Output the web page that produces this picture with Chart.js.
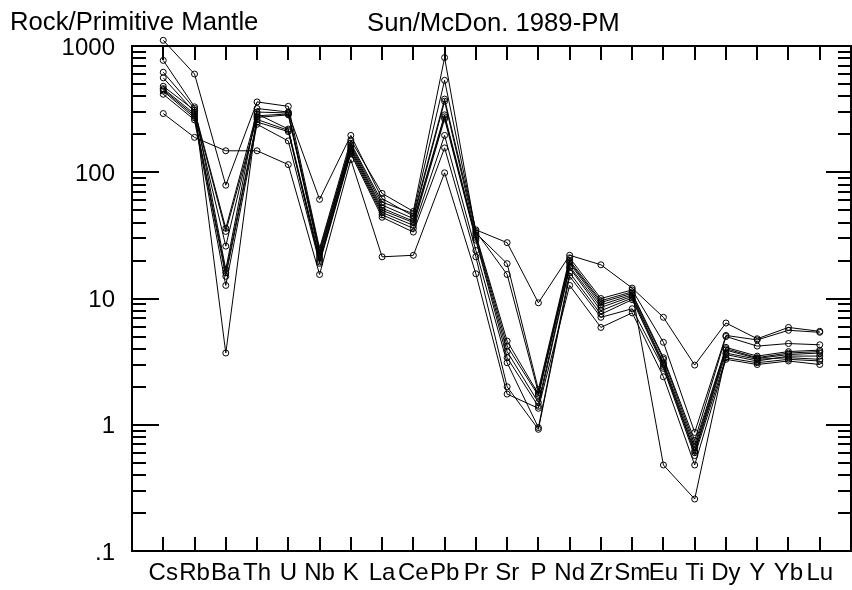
<!DOCTYPE html>
<html>
<head>
<meta charset="utf-8">
<script src="https://cdn.jsdelivr.net/npm/chart.js@4/dist/chart.umd.min.js"></script>
<style>
body { margin: 0; background: #fff; }
</style>
</head>
<body>
<canvas id="chart" width="852" height="590"></canvas>
<script>
var elements = ['Cs','Rb','Ba','Th','U','Nb','K','La','Ce','Pb','Pr','Sr','P','Nd','Zr','Sm','Eu','Ti','Dy','Y','Yb','Lu'];

// rock / primitive mantle, one array per sample
var sample1  = [1110, 600, 79,  361, 333, 25,   180, 68,   49,   810, 33,   18.9, 1.9,  21,   10,   11.7, 4.5,  0.87,  5.1, 4.7,  5.6, 5.4];
var sample2  = [292,  189, 148, 148, 115, 15.5, 126, 21.4, 22,   99,  15.7, 1.75, 1.35, 12.7, 5.9,  7.7,  2.4,  0.48,  3.3, 3.0,  3.2, 3.0];
var sample3  = [480,  310, 36,  300, 295, 61,   196, 62,   45,   380, 35,   27.7, 9.25, 22,   18.5, 12.1, 7.1,  2.97,  6.4, 4.8,  5.9, 5.5];
var sample4  = [770,  330, 17,  320, 300, 24,   170, 58,   47,   535, 34,   15.5, 1.8,  20,   9.6,  11.3, 0.48, 0.258, 3.6, 3.2,  3.5, 3.5];
var sample5  = [620,  320, 3.7, 280, 290, 23,   165, 55,   43,   365, 32,   4.6,  1.75, 19.5, 9.3,  11,   3.4,  0.75,  5.0, 4.2,  4.4, 4.3];
var sample6  = [560,  300, 34,  272, 285, 22,   160, 52,   41,   285, 31,   4.2,  1.7,  19,   8.9,  10.7, 3.3,  0.70,  4.1, 3.5,  3.8, 3.9];
var sample7  = [460,  290, 26,  290, 220, 21,   155, 50,   40,   275, 30,   3.8,  1.5,  18,   8.5,  10.4, 3.1,  0.66,  4.0, 3.4,  3.7, 3.8];
var sample8  = [450,  280, 16,  262, 215, 20,   150, 48,   38,   265, 29,   3.4,  1.4,  17.5, 8.0,  10.1, 3.0,  0.62,  3.9, 3.35, 3.6, 3.7];
var sample9  = [440,  270, 15,  250, 210, 19.5, 145, 46,   36,   196, 24,   3.1,  0.95, 16,   7.5,  9.8,  2.9,  0.60,  3.7, 3.3,  3.4, 3.3];
var sample10 = [415,  260, 12.7,240, 177, 19,   140, 44,   33.6, 156, 21.4, 2.0,  0.92, 15,   7.1,  8.3,  2.8,  0.57,  3.4, 3.1,  3.3, 3.2];

var samples = [sample1, sample2, sample3, sample4, sample5, sample6, sample7, sample8, sample9, sample10];

var yBottom = 0.1;
var yTop = 1000;   // frame top; the scale runs a bit higher so the Cs point above it still shows
var yScaleMax = 1400;

var FONT = '"Liberation Sans", Arial, sans-serif';

function isDecade(v) {
  var l = Math.log10(v);
  return Math.abs(l - Math.round(l)) < 1e-6;
}

// 0.1, 0.2 ... 0.9, 1, 2 ... 1000
function logTickValues() {
  var vals = [];
  for (var d = -1; d < 3; d++) {
    for (var k = 1; k < 10; k++) vals.push(k * Math.pow(10, d));
  }
  vals.push(yTop);
  return vals;
}

var datasets = [];
for (var i = 0; i < samples.length; i++) {
  datasets.push({
    data: samples[i].map(function (v, j) { return {x: j, y: v}; }),
    borderColor: '#000',
    borderWidth: 1,
    pointRadius: 3,
    pointHoverRadius: 3,
    pointBorderWidth: 1,
    pointBorderColor: '#000',
    pointBackgroundColor: 'rgba(0,0,0,0)',
    tension: 0,
    clip: false
  });
}

// frame, inward ticks and the two header texts
var frameTicks = {
  id: 'frameTicks',
  afterDraw: function (chart) {
    var ctx = chart.ctx, a = chart.chartArea;
    var xs = chart.scales.x, ys = chart.scales.y;
    var top = Math.round(ys.getPixelForValue(yTop));
    ctx.save();
    ctx.strokeStyle = '#000';
    ctx.lineWidth = 2;
    ctx.strokeRect(a.left, top, a.right - a.left, a.bottom - top);
    ctx.beginPath();
    for (var i = 0; i < elements.length; i++) {
      var px = Math.round(xs.getPixelForValue(i));
      ctx.moveTo(px, a.bottom); ctx.lineTo(px, a.bottom - 14);
      ctx.moveTo(px, top); ctx.lineTo(px, top + 14);
    }
    logTickValues().forEach(function (v) {
      var py = Math.round(ys.getPixelForValue(v));
      var major = isDecade(v);
      ctx.moveTo(a.left, py); ctx.lineTo(a.left + (major ? 27 : 14), py);
      ctx.moveTo(a.right, py); ctx.lineTo(a.right - (major ? 25 : 13), py);
    });
    ctx.stroke();
    ctx.fillStyle = '#000';
    ctx.font = '25.7px ' + FONT;
    ctx.textBaseline = 'alphabetic';
    ctx.textAlign = 'left';
    ctx.fillText('Rock/Primitive Mantle', 10, 30);
    ctx.fillText('Sun/McDon. 1989-PM', 367, 31);
    ctx.restore();
  }
};

var chart = new Chart(document.getElementById('chart').getContext('2d'), {
  type: 'line',
  data: { datasets: datasets },
  options: {
    responsive: false,
    animation: false,
    devicePixelRatio: 1,
    layout: { autoPadding: false, padding: { top: 27.6, right: 1, left: 0, bottom: 0 } },
    plugins: { legend: { display: false }, tooltip: { enabled: false } },
    scales: {
      x: {
        type: 'linear',
        min: -1,
        max: 22,
        grid: { display: false, drawTicks: false },
        border: { display: false },
        afterBuildTicks: function (s) {
          s.ticks = elements.map(function (e, i) { return {value: i}; });
        },
        afterFit: function (s) {
          s.height = 39;
          s.paddingLeft = 0; s.paddingRight = 0; s.paddingTop = 0; s.paddingBottom = 0;
        },
        ticks: {
          autoSkip: false,
          maxRotation: 0,
          padding: 8,
          color: '#000',
          font: { family: FONT, size: 24 },
          callback: function (v) { return elements[v] || ''; }
        }
      },
      y: {
        type: 'logarithmic',
        min: yBottom,
        max: yScaleMax,
        grid: { display: false, drawTicks: false },
        border: { display: false },
        afterFit: function (s) {
          s.width = 132;
          s.paddingLeft = 0; s.paddingRight = 0; s.paddingTop = 0; s.paddingBottom = 0;
        },
        ticks: {
          autoSkip: false,
          padding: 17,
          labelOffset: 2,
          color: '#000',
          font: { family: FONT, size: 24 },
          callback: function (v) {
            if (!isDecade(v) || v > yTop) return '';
            return v < 1 ? '.1' : String(Math.round(v));
          }
        }
      }
    }
  },
  plugins: [frameTicks]
});
</script>
</body>
</html>
